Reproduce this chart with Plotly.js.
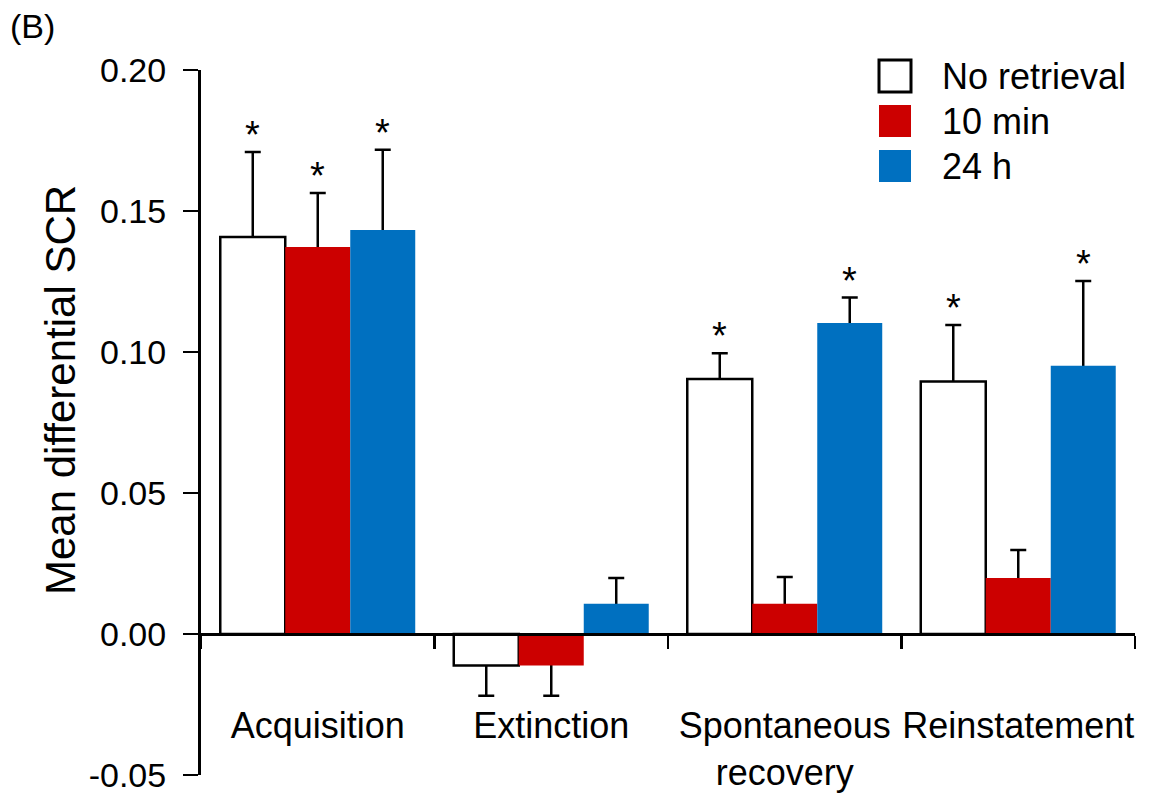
<!DOCTYPE html>
<html>
<head>
<meta charset="utf-8">
<script src="https://cdn.plot.ly/plotly-3.0.1.min.js"></script>
<style>html,body{margin:0;padding:0;background:#fff;}#chart{width:1168px;height:794px;}</style>
</head>
<body>
<div id="chart"></div>
<script>
// ---- data ----
const categories = ['Acquisition', 'Extinction', 'Spontaneous<br>recovery', 'Reinstatement'];
const seriesNames = ['No retrieval', '10 min', '24 h'];
const noRetrieval = [0.1408, -0.0112, 0.0904, 0.0895];
const min10 = [0.1372, -0.0112, 0.0107, 0.0199];
const h24 = [0.1433, 0.0107, 0.1103, 0.0951];
const errNoRetrieval = [0.0301, 0.0107, 0.0092, 0.0201];
const errMin10 = [0.0192, 0.0107, 0.0095, 0.0099];
const errH24 = [0.0284, 0.0092, 0.0090, 0.0301];
const sigNoRetrieval = [true, false, true, true];
const sigMin10 = [true, false, false, false];
const sigH24 = [true, false, true, true];
const yTickVals = [-0.05, 0, 0.05, 0.10, 0.15, 0.20];
const yTickText = ['-0.05', '0.00', '0.05', '0.10', '0.15', '0.20'];
const yTitle = 'Mean differential SCR';
const panelLabel = '(B)';

// ---- styling ----
const FONT = 'Liberation Sans, Arial, Helvetica, sans-serif';
const colors = ['#ffffff', '#cc0000', '#0070c0'];
const lineW = [2.5, 0, 0];
const values = [noRetrieval, min10, h24];
const errs = [errNoRetrieval, errMin10, errH24];
const sigs = [sigNoRetrieval, sigMin10, sigH24];
const BARGAP = 0.165;

const L = 201, R = 1135, T = 70, B = 775;
const W = 1168, H = 794;
const px2x = p => (p - L) / (R - L);
const py2y = p => (B - p) / (B - T);

const traces = [];
// error-bar carriers (drawn first, then covered by visible bars so only the outer half shows)
values.forEach((v, s) => {
  traces.push({
    type: 'bar', x: categories, y: v, offsetgroup: 'g' + s,
    marker: {color: 'rgba(0,0,0,0)', line: {width: 0}},
    error_y: {type: 'data', symmetric: true, array: errs[s], color: '#000', thickness: 2.5, width: 8},
    showlegend: false, hoverinfo: 'skip'
  });
});
values.forEach((v, s) => {
  traces.push({
    type: 'bar', x: categories, y: v, name: seriesNames[s], offsetgroup: 'g' + s,
    marker: {color: colors[s], line: {color: '#000', width: lineW[s]}},
    showlegend: false
  });
});

const annotations = [];
const bw = (1 - BARGAP) / 3;
values.forEach((v, s) => {
  v.forEach((val, i) => {
    if (!sigs[s][i]) return;
    annotations.push({
      x: i + (s - 1) * bw, y: val + errs[s][i], xref: 'x', yref: 'y',
      text: '*', showarrow: false, xanchor: 'center', yanchor: 'bottom', yshift: -6,
      font: {family: FONT, size: 38, color: '#000'}
    });
  });
});
// panel label
annotations.push({
  x: px2x(8), y: py2y(26), xref: 'paper', yref: 'paper', text: panelLabel, showarrow: false,
  xanchor: 'left', yanchor: 'middle', font: {family: FONT, size: 34, color: '#000'}
});
// y-axis title (placed to match the reference's offset position)
annotations.push({
  x: px2x(60), y: py2y(390), xref: 'paper', yref: 'paper', text: yTitle, showarrow: false,
  textangle: -90, xanchor: 'center', yanchor: 'middle',
  font: {family: FONT, size: 42, color: '#000'}
});
// legend
const shapes = [];
const legTop = [60, 105, 150];
seriesNames.forEach((n, s) => {
  shapes.push({
    type: 'rect', xref: 'paper', yref: 'paper',
    x0: px2x(879), x1: px2x(911), y0: py2y(legTop[s] + 32), y1: py2y(legTop[s]),
    fillcolor: colors[s], line: {color: s === 0 ? '#000' : colors[s], width: s === 0 ? 3 : 0}
  });
  annotations.push({
    x: px2x(940), y: py2y(legTop[s] + 16), xref: 'paper', yref: 'paper', text: n,
    showarrow: false, xanchor: 'left', yanchor: 'middle',
    font: {family: FONT, size: 36, color: '#000'}
  });
});

const layout = {
  width: W, height: H,
  margin: {l: L, r: W - R, t: T, b: H - B, pad: 0},
  paper_bgcolor: '#fff', plot_bgcolor: '#fff',
  font: {family: FONT, color: '#000'},
  barmode: 'group', bargap: BARGAP, bargroupgap: 0,
  hovermode: false, showlegend: false,
  xaxis: {
    type: 'category', range: [-0.5, 3.5], fixedrange: true,
    anchor: 'free', position: 0.2,
    showline: true, linecolor: '#000', linewidth: 3,
    ticks: 'outside', tickson: 'boundaries', ticklen: 13, tickwidth: 2.5, tickcolor: '#000',
    tickangle: 0, ticklabelstandoff: 59,
    showgrid: false, zeroline: false, automargin: false,
    tickfont: {family: FONT, size: 36, color: '#000'}
  },
  yaxis: {
    range: [-0.05, 0.20], fixedrange: true,
    tickmode: 'array', tickvals: yTickVals, ticktext: yTickText,
    showline: true, linecolor: '#000', linewidth: 3,
    ticks: 'outside', ticklen: 15, tickwidth: 2.5, tickcolor: '#000',
    ticklabelstandoff: 10,
    showgrid: false, zeroline: false, automargin: false,
    tickfont: {family: FONT, size: 34, color: '#000'}
  },
  annotations: annotations,
  shapes: shapes
};

Plotly.newPlot('chart', traces, layout, {displayModeBar: false, staticPlot: true});
</script>
</body>
</html>
